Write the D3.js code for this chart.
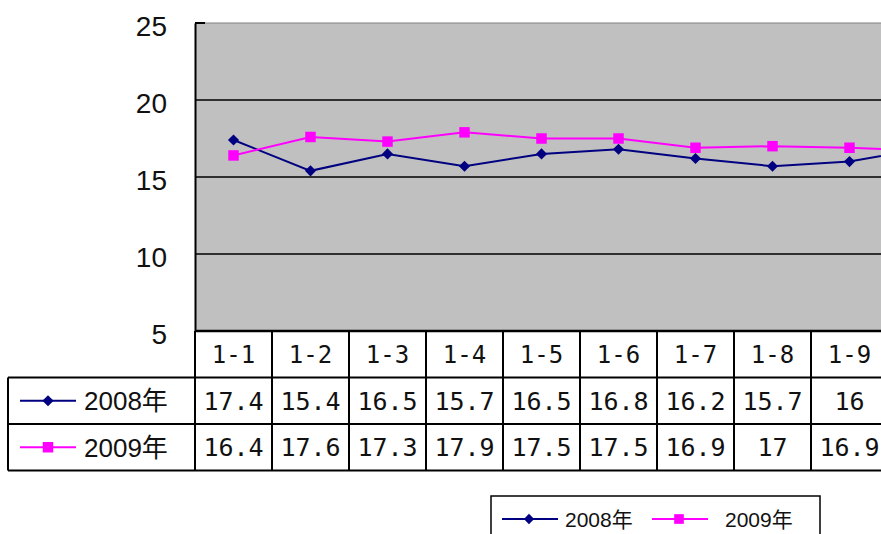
<!DOCTYPE html>
<html>
<head>
<meta charset="utf-8">
<script src="https://cdn.jsdelivr.net/npm/d3@7"></script>
<style>
  body { margin: 0; background: #fff; }
  svg { display: block; }
</style>
</head>
<body>
<div id="chart"></div>
<script>
// chart data
const categories = ["1-1", "1-2", "1-3", "1-4", "1-5", "1-6", "1-7", "1-8", "1-9", "1-10"];
const values2008 = [17.4, 15.4, 16.5, 15.7, 16.5, 16.8, 16.2, 15.7, 16, 16.9];
const values2009 = [16.4, 17.6, 17.3, 17.9, 17.5, 17.5, 16.9, 17, 16.9, 16.7];
const seriesNames = ["2008年", "2009年"];
const yTicks = [5, 10, 15, 20, 25];

// frame
const WIDTH = 881;
const HEIGHT = 534;
const PLOT = {left: 195, top: 23, bottom: 331};
const ROW_H = 46.5;
const TABLE_LEFT = 8;
const BAND = 77;

const svg = d3.select("#chart")
  .append("svg")
    .attr("width", WIDTH)
    .attr("height", HEIGHT);

const x = d3.scaleBand()
  .domain(categories)
  .range([PLOT.left, PLOT.left + BAND * categories.length]);

const y = d3.scaleLinear()
  .domain([5, 25])
  .range([PLOT.bottom, PLOT.top]);

const series = [
  {name: seriesNames[0], values: values2008, color: "#000080", marker: "diamond"},
  {name: seriesNames[1], values: values2009, color: "#FF00FF", marker: "square"}
];

// the last column runs past the right edge of the picture, so its table
// text is left out (the line still runs off towards it)
const cx = (c) => x(c) + x.bandwidth() / 2;
const shownCats = categories.filter(c => x(c) < WIDTH);

// marker shape: diamond is a square turned 45 degrees
function markerPath(kind, scale) {
  return kind === "diamond"
    ? d3.symbol().type(d3.symbolSquare).size(62 * scale)()
    : d3.symbol().type(d3.symbolSquare).size(110 * scale)();
}
function markerRotate(kind) {
  return kind === "diamond" ? " rotate(45)" : "";
}

// plot area
svg.append("rect")
  .attr("x", PLOT.left)
  .attr("y", PLOT.top)
  .attr("width", x.range()[1] - PLOT.left)
  .attr("height", PLOT.bottom - PLOT.top)
  .attr("fill", "#C0C0C0");

// top border of plot
svg.append("line")
  .attr("x1", PLOT.left).attr("x2", x.range()[1])
  .attr("y1", y(25)).attr("y2", y(25))
  .attr("stroke", "#808080").attr("stroke-width", 1);

// gridlines
svg.selectAll(".grid")
  .data(yTicks.filter(d => d > 5 && d < 25))
  .enter()
  .append("line")
    .attr("class", "grid")
    .attr("x1", PLOT.left).attr("x2", x.range()[1])
    .attr("y1", d => y(d)).attr("y2", d => y(d))
    .attr("stroke", "#000").attr("stroke-width", 1.5);

// y axis
const yAxis = d3.axisLeft(y).tickValues(yTicks).tickSize(0).tickPadding(28);
const yG = svg.append("g")
  .attr("transform", `translate(${PLOT.left},0)`)
  .call(yAxis);
yG.select(".domain").attr("stroke", "#000").attr("stroke-width", 2);
yG.selectAll("text")
  .attr("font-family", "Liberation Sans, Arial, sans-serif")
  .attr("font-size", 28)
  .attr("fill", "#111")
  .attr("dy", "0.45em");

// small tick at top
svg.append("line")
  .attr("x1", PLOT.left).attr("x2", PLOT.left + 10)
  .attr("y1", y(25)).attr("y2", y(25))
  .attr("stroke", "#000").attr("stroke-width", 2);

// lines and markers
const line = d3.line()
  .x((d, i) => cx(categories[i]))
  .y(d => y(d));

series.forEach((s) => {
  svg.append("path")
    .datum(s.values)
    .attr("d", line)
    .attr("fill", "none")
    .attr("stroke", s.color)
    .attr("stroke-width", 2);

  svg.selectAll(".m-" + s.marker)
    .data(s.values)
    .enter()
    .append("path")
      .attr("class", "m-" + s.marker)
      .attr("d", markerPath(s.marker, 1))
      .attr("transform", (d, i) =>
        `translate(${cx(categories[i])},${y(d)})` + markerRotate(s.marker))
      .attr("fill", s.color);
});

// data table
const tableG = svg.append("g");
const rowTop = [PLOT.bottom, PLOT.bottom + ROW_H, PLOT.bottom + ROW_H * 2];
const tableBottom = PLOT.bottom + ROW_H * 3;
const monoFont = "DejaVu Sans Mono, Liberation Mono, monospace";

// horizontal lines
tableG.append("line")
  .attr("x1", PLOT.left).attr("x2", x.range()[1])
  .attr("y1", rowTop[0]).attr("y2", rowTop[0])
  .attr("stroke", "#000").attr("stroke-width", 2.5);
[rowTop[1], rowTop[2], tableBottom].forEach((yy) => {
  tableG.append("line")
    .attr("x1", TABLE_LEFT).attr("x2", x.range()[1])
    .attr("y1", yy).attr("y2", yy)
    .attr("stroke", "#000").attr("stroke-width", 2);
});

// vertical lines
tableG.append("line")
  .attr("x1", TABLE_LEFT).attr("x2", TABLE_LEFT)
  .attr("y1", rowTop[1]).attr("y2", tableBottom)
  .attr("stroke", "#000").attr("stroke-width", 2);
tableG.selectAll(".vcell")
  .data(categories)
  .enter()
  .append("line")
    .attr("class", "vcell")
    .attr("x1", d => x(d)).attr("x2", d => x(d))
    .attr("y1", rowTop[0]).attr("y2", tableBottom)
    .attr("stroke", "#000").attr("stroke-width", 2);

// header labels
tableG.selectAll(".hdr")
  .data(shownCats)
  .enter()
  .append("text")
    .attr("class", "hdr")
    .attr("x", d => cx(d))
    .attr("y", rowTop[0] + ROW_H / 2)
    .attr("dy", "0.36em")
    .attr("text-anchor", "middle")
    .attr("font-family", monoFont)
    .attr("font-size", 24)
    .attr("fill", "#111")
    .text(d => d);

// series rows
series.forEach((s, r) => {
  const cy = rowTop[r + 1] + ROW_H / 2;

  // legend key in row header
  tableG.append("line")
    .attr("x1", 20).attr("x2", 76)
    .attr("y1", cy).attr("y2", cy)
    .attr("stroke", s.color).attr("stroke-width", 2);
  tableG.append("path")
    .attr("d", markerPath(s.marker, 1))
    .attr("transform", `translate(48,${cy})` + markerRotate(s.marker))
    .attr("fill", s.color);
  tableG.append("text")
    .attr("x", 84)
    .attr("y", cy)
    .attr("dy", "0.36em")
    .attr("font-family", "Liberation Sans, Noto Sans CJK SC, sans-serif")
    .attr("font-size", 26)
    .attr("fill", "#111")
    .text(s.name);

  tableG.selectAll(".val" + r)
    .data(shownCats)
    .enter()
    .append("text")
      .attr("class", "val" + r)
      .attr("x", d => cx(d))
      .attr("y", cy)
      .attr("dy", "0.36em")
      .attr("text-anchor", "middle")
      .attr("font-family", monoFont)
      .attr("font-size", 25)
      .attr("fill", "#111")
      .text(d => s.values[categories.indexOf(d)]);
});

// legend
const legend = svg.append("g");
legend.append("rect")
  .attr("x", 491).attr("y", 496)
  .attr("width", 329).attr("height", 60)
  .attr("fill", "#fff")
  .attr("stroke", "#000").attr("stroke-width", 1.5);

series.forEach((s, i) => {
  const lx = 502 + i * 150;
  const ly = 519;
  legend.append("line")
    .attr("x1", lx).attr("x2", lx + 56)
    .attr("y1", ly).attr("y2", ly)
    .attr("stroke", s.color).attr("stroke-width", 2);
  legend.append("path")
    .attr("d", markerPath(s.marker, 0.85))
    .attr("transform", `translate(${lx + 27},${ly})` + markerRotate(s.marker))
    .attr("fill", s.color);
  legend.append("text")
    .attr("x", lx + 63 + i * 10)
    .attr("y", ly)
    .attr("dy", "0.36em")
    .attr("font-family", "Liberation Sans, Noto Sans CJK SC, sans-serif")
    .attr("font-size", 21)
    .attr("fill", "#111")
    .text(s.name);
});
</script>
</body>
</html>
